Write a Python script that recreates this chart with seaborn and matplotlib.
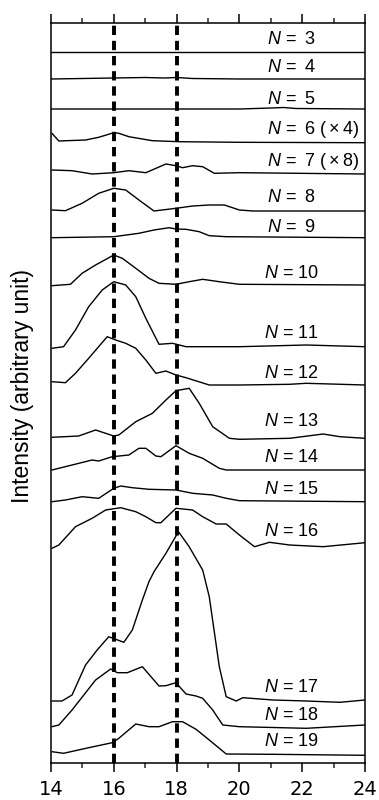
import matplotlib
matplotlib.use("Agg")
import matplotlib.pyplot as plt
import seaborn as sns
import pandas as pd

# ---------------- data ----------------
x_n3 = [14.0, 16.0, 18.0, 20.0, 22.0, 24.0]
y_n3 = [711, 711, 711, 711, 711, 711]

x_n4 = [14.0, 15.0, 16.0, 17.0, 17.6, 18.0, 18.5, 20.0, 24.0]
y_n4 = [684, 684.5, 685, 685.5, 685, 685.5, 684.5, 684, 684]

x_n5 = [14.0, 16.0, 18.0, 20.0, 21.0, 21.4, 21.8, 24.0]
y_n5 = [654, 654, 654, 654, 655, 655.5, 654.5, 654]

x_n6 = [14.03, 14.25, 15.1, 15.52, 16.0, 16.16, 16.48, 17.23, 18.08, 20.0, 24.0]
y_n6 = [629.7, 622, 623, 625.7, 630.3, 629.7, 626.3, 622.3, 621.3, 620.7, 620.3]

x_n7 = [14.03, 14.67, 15.31, 16.0, 16.48, 17.02, 17.66, 17.98, 18.19, 18.51, 18.83,
        19.2, 20.0, 24.0]
y_n7 = [593, 592.3, 589, 590.3, 592.3, 590.3, 599, 597.3, 595.3, 597.3, 596.3,
        589.7, 590.3, 589]

x_n8 = [14.03, 14.46, 14.99, 15.52, 16.0, 16.38, 16.8, 17.28, 17.98, 18.51, 19.04,
        19.52, 20.0, 20.43, 24.0]
y_n8 = [553, 552.3, 559.7, 569.7, 574.7, 573, 563, 552, 554.7, 557, 558,
        558, 553, 552, 552]

x_n9 = [14.03, 16.0, 16.8, 17.28, 17.76, 17.98, 18.3, 18.72, 19.04, 19.58, 24.0]
y_n9 = [525.3, 526.3, 529.7, 533, 535.3, 534, 533.7, 531.3, 527.3, 526.3, 525.3]

x_n10 = [14.03, 14.62, 14.99, 15.42, 16.0, 16.27, 16.7, 17.12, 17.44, 17.98, 18.4,
         18.83, 19.36, 20.0, 24.0]
y_n10 = [477.3, 478.7, 489.7, 498, 508, 504.7, 494.7, 484.7, 479.7, 478.7, 481.3,
         483.7, 481.3, 478.7, 478]

x_n11 = [14.03, 14.4, 14.78, 15.2, 15.63, 16.0, 16.38, 16.7, 17.02, 17.44, 17.87,
         18.3, 20.0, 22.13, 24.0]
y_n11 = [414.7, 416.3, 433, 456.3, 473, 481.3, 478, 466.3, 444.7, 418.7, 419.7,
         416.3, 416.3, 418, 416.3]

x_n12 = [14.03, 14.46, 14.78, 15.2, 15.79, 16.06, 16.38, 16.7, 17.02, 17.34, 17.66,
         17.98, 18.3, 19.04, 20.0, 21.6, 22.13, 24.0]
y_n12 = [381.3, 380.3, 389.7, 404.7, 426.3, 423, 419.7, 414.7, 403, 389.7, 392,
         388, 385.3, 378, 378, 378.7, 379.7, 378]

x_n13 = [14.03, 14.88, 15.42, 16.0, 16.16, 16.7, 17.23, 17.66, 17.98, 18.4, 18.72,
         19.15, 19.68, 20.0, 21.6, 22.67, 23.2, 24.0]
y_n13 = [325.7, 327, 333, 327, 328, 341.3, 349.7, 363, 372.3, 374.7, 359.7,
         336.3, 324.7, 323.7, 324.7, 329, 326.3, 324.7]

x_n14 = [14.03, 14.67, 15.31, 15.52, 15.95, 16.48, 16.8, 17.02, 17.34, 17.5, 17.98,
         18.4, 18.83, 19.36, 19.58, 24.0]
y_n14 = [293, 298, 303, 302, 306.3, 308, 314.7, 314.7, 307, 306.3, 317.3,
         309.7, 304.7, 294.7, 293, 293]

x_n15 = [14.03, 14.46, 14.99, 15.52, 16.0, 16.22, 16.59, 17.12, 17.98, 18.51, 19.15,
         19.58, 20.0, 24.0]
y_n15 = [261.3, 263, 266.3, 264.7, 274.7, 277, 275.3, 273.7, 273, 269.7, 268,
         264.7, 262.3, 261.3]

x_n16 = [14.03, 14.25, 14.78, 15.31, 15.74, 16.22, 16.7, 17.02, 17.34, 17.5, 17.98,
         18.51, 18.83, 19.26, 19.58, 20.0, 20.48, 20.96, 21.6, 22.67, 24.0]
y_n16 = [214.7, 218, 236.3, 244.7, 253, 255.3, 251.3, 246.3, 240.3, 240.3, 254.7,
         253, 246.3, 239, 239, 228, 216.3, 220.7, 218, 216.3, 220.3]

x_n17 = [14.03, 14.35, 14.67, 15.1, 15.47, 15.84, 16.32, 16.59, 16.91, 17.12, 17.28,
         17.66, 18.06, 18.4, 18.83, 19.04, 19.36, 19.58, 19.9, 20.11, 21.07, 22.13,
         23.2, 24.0]
y_n17 = [62, 62, 68, 98, 113, 126.3, 120.7, 133, 163, 181.3, 191.3,
         209.7, 231.3, 216.3, 193, 166.3, 96.3, 66.3, 62, 65.3, 63, 62,
         60.7, 63]

x_n18 = [14.03, 14.25, 14.67, 15.42, 15.9, 16.11, 16.43, 16.91, 17.44, 17.66, 17.98,
         18.3, 18.62, 18.83, 19.15, 19.47, 20.0, 22.13, 24.0]
y_n18 = [36.3, 38, 53, 83, 94, 90.3, 90.3, 96.3, 77, 77.3, 80.3,
         69, 67, 64.7, 53, 38, 36.3, 34.7, 38]

x_n19 = [14.03, 14.4, 15.2, 15.95, 16.16, 16.7, 17.12, 17.44, 17.87, 18.19, 18.62,
         19.04, 19.58, 21.07, 24.0]
y_n19 = [11.3, 9.7, 15.3, 20.3, 24.7, 39, 36.3, 36.3, 41.3, 41.3, 33.7,
         23, 9, 8.7, 7.7]

cluster_sizes = [3, 4, 5, 6, 7, 8, 9, 10, 11, 12, 13, 14, 15, 16, 17, 18, 19]
label_suffix = {6: " (\u2009×\u20094)", 7: " (\u2009×\u20098)"}
label_y = [723, 695, 664, 633, 601, 565, 536, 490, 429, 390, 341, 306, 274, 231,
           75, 47, 22]
label_x = 20.78

x_ticks = [14, 16, 18, 20, 22, 24]
x_minor = [15, 17, 19, 21, 23]
ref_lines = [16, 18]
y_label = "Intensity (arbitrary unit)"

traces_x = [x_n3, x_n4, x_n5, x_n6, x_n7, x_n8, x_n9, x_n10, x_n11, x_n12, x_n13,
            x_n14, x_n15, x_n16, x_n17, x_n18, x_n19]
traces_y = [y_n3, y_n4, y_n5, y_n6, y_n7, y_n8, y_n9, y_n10, y_n11, y_n12, y_n13,
            y_n14, y_n15, y_n16, y_n17, y_n18, y_n19]

rows = []
for n, xs, ys in zip(cluster_sizes, traces_x, traces_y):
    for i, (xv, yv) in enumerate(zip(xs, ys)):
        rows.append({"N": n, "order": i, "x": xv, "y": yv})
df = pd.DataFrame(rows)

# ---------------- styling ----------------
sns.set_theme(style="ticks")
plt.rcParams["font.family"] = ["Liberation Sans", "DejaVu Sans"]
plt.rcParams["mathtext.fontset"] = "custom"
plt.rcParams["mathtext.it"] = "Liberation Sans:italic"
plt.rcParams["mathtext.rm"] = "Liberation Sans"

fig = plt.figure(figsize=(3.79, 8.0), dpi=100)
ax = fig.add_axes([51 / 379, 1 - 763 / 800, 314 / 379, 740 / 800])

sns.lineplot(data=df, x="x", y="y", units="N", estimator=None, sort=False,
             color="black", linewidth=1.0, ax=ax, legend=False)

for xv in ref_lines:
    ax.axvline(xv, color="black", linewidth=2.8, linestyle=(0, (2.4, 1.5)), zorder=3)

for n, ly in zip(cluster_sizes, label_y):
    if n >= 10:
        txt = f"$N$ = {n}"
        lx = label_x
    else:
        txt = f"$N$ = \u2009{n}"
        lx = label_x + 0.1
    ax.text(lx, ly, txt + label_suffix.get(n, ""), fontsize=13, ha="left",
            va="center", family="Liberation Sans", color="black")

ax.set_xlim(14, 24)
ax.set_ylim(0, 740)
ax.set_xticks(x_ticks)
ax.set_xticks(x_minor, minor=True)
ax.set_xticklabels([str(t) for t in x_ticks], family="DejaVu Sans", fontsize=14)
ax.set_yticks([])
ax.tick_params(axis="x", which="major", direction="out", length=6.5, width=1.1,
               top=True, bottom=True, labeltop=False, pad=6, colors="black")
ax.tick_params(axis="x", which="minor", direction="out", length=3.6, width=1.1,
               top=True, bottom=True)
ax.set_xlabel("")
ax.set_ylabel(y_label, fontsize=16.5, family="Liberation Sans", color="black")
ax.yaxis.set_label_coords(-0.055, 0.51)
for s in ax.spines.values():
    s.set_visible(True)
    s.set_linewidth(1.1)
    s.set_color("black")

fig.savefig("out.png", dpi=100, facecolor="white")
